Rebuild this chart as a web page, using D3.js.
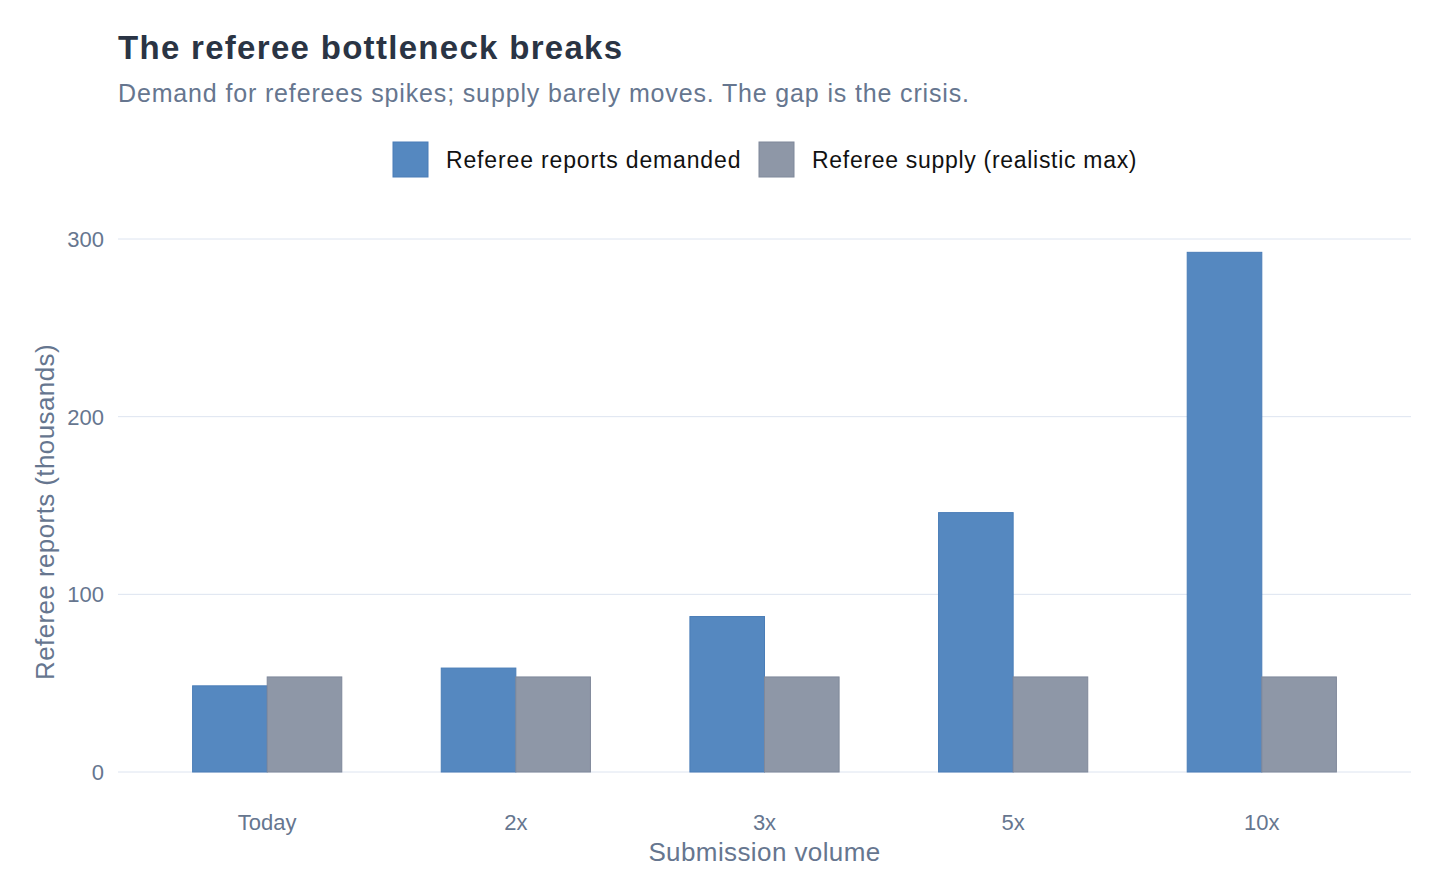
<!DOCTYPE html>
<html>
<head>
<meta charset="utf-8">
<script src="https://cdn.jsdelivr.net/npm/d3@7"></script>
<style>
  body { margin: 0; background: #fff; }
  text { font-family: "Liberation Sans", Arial, Helvetica, sans-serif; }
</style>
</head>
<body>
<div id="chart"></div>
<script>
// data
var categories = ["Today", "2x", "3x", "5x", "10x"];
var demanded = [48.5, 58.5, 87.5, 146, 292.5];
var supply = [53.5, 53.5, 53.5, 53.5, 53.5];
var seriesNames = ["Referee reports demanded", "Referee supply (realistic max)"];
var yTicks = [0, 100, 200, 300];

var width = 1456, height = 890;
var margin = {top: 200, right: 45, bottom: 118, left: 118};

var svg = d3.select("#chart").append("svg")
  .attr("width", width)
  .attr("height", height);

// title + subtitle
svg.append("text")
  .attr("x", 118).attr("y", 59)
  .attr("font-size", 33).attr("font-weight", "bold")
  .attr("letter-spacing", 1.3)
  .attr("fill", "#2a3444")
  .text("The referee bottleneck breaks");
svg.append("text")
  .attr("x", 118).attr("y", 102)
  .attr("font-size", 25).attr("letter-spacing", 0.85)
  .attr("fill", "#66768f")
  .text("Demand for referees spikes; supply barely moves. The gap is the crisis.");

var colors = ["#5588c0", "#8e97a7"];
var strokes = ["#4a7db7", "#7f889a"];

// legend
var legendX = [393, 759];
var legendSpacing = [0.85, 0.7];
seriesNames.forEach(function(name, i) {
  var g = svg.append("g").attr("transform", "translate(" + legendX[i] + ",142)");
  g.append("rect").attr("width", 35).attr("height", 35)
    .attr("fill", colors[i]).attr("stroke", strokes[i]);
  g.append("text").attr("x", 53).attr("y", 26)
    .attr("font-size", 23).attr("letter-spacing", legendSpacing[i])
    .attr("fill", "#111")
    .text(name);
});

var x = d3.scaleBand()
  .domain(categories)
  .range([margin.left, width - margin.right])
  .paddingInner(0).paddingOuter(0.1);

var y = d3.scaleLinear()
  .domain([0, 300])
  .range([772, 239]);

// grid
svg.append("g").selectAll("line")
  .data(yTicks)
  .enter().append("line")
    .attr("x1", margin.left).attr("x2", width - margin.right)
    .attr("y1", d => y(d)).attr("y2", d => y(d))
    .attr("stroke", "#dde4f0").attr("stroke-width", 1);

// y tick labels
svg.append("g").selectAll("text")
  .data(yTicks)
  .enter().append("text")
    .attr("x", 104).attr("y", d => y(d) + 8)
    .attr("text-anchor", "end")
    .attr("font-size", 22).attr("fill", "#66768f")
    .text(d => d);

// bars
var groupW = x.bandwidth() * 0.6;
var x1 = d3.scaleBand().domain([0, 1]).range([0, groupW]);
var series = [demanded, supply];
series.forEach(function(vals, s) {
  svg.append("g").selectAll("rect")
    .data(vals)
    .enter().append("rect")
      .attr("x", (d, i) => x(categories[i]) + (x.bandwidth() - groupW) / 2 + x1(s))
      .attr("y", d => y(d))
      .attr("width", x1.bandwidth())
      .attr("height", d => y(0) - y(d))
      .attr("fill", colors[s])
      .attr("stroke", strokes[s]).attr("stroke-width", 1);
});

// x tick labels
svg.append("g").selectAll("text")
  .data(categories)
  .enter().append("text")
    .attr("x", d => x(d) + x.bandwidth() / 2)
    .attr("y", 830)
    .attr("text-anchor", "middle")
    .attr("font-size", 22).attr("fill", "#66768f")
    .text(d => d);

// axis titles
svg.append("text")
  .attr("x", (margin.left + width - margin.right) / 2).attr("y", 861)
  .attr("text-anchor", "middle")
  .attr("font-size", 26).attr("letter-spacing", 0.4).attr("fill", "#66768f")
  .text("Submission volume");
svg.append("text")
  .attr("transform", "translate(54,512) rotate(-90)")
  .attr("text-anchor", "middle")
  .attr("font-size", 26).attr("letter-spacing", 0.4).attr("fill", "#66768f")
  .text("Referee reports (thousands)");
</script>
</body>
</html>
